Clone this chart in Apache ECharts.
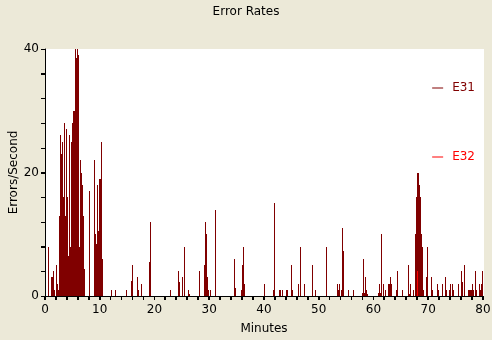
<!DOCTYPE html>
<html>
<head>
<meta charset="utf-8">
<script src="https://cdn.jsdelivr.net/npm/echarts@6/dist/echarts.min.js"></script>
<style>
  html, body { margin: 0; padding: 0; background: #ece9d8; }
  #chart { width: 492px; height: 340px; }
</style>
</head>
<body>
<div id="chart"></div>
<script>
// 数据：[分钟, 错误数/秒]
var e31 = [
  [0.8, 8], [1.3, 3], [1.5, 3], [1.7, 4], [1.9, 1], [2.25, 5], [2.45, 2], [2.6, 1],
  [2.75, 13], [2.95, 26], [3.1, 23], [3.3, 25], [3.5, 16], [3.65, 28], [3.8, 13],
  [3.95, 24], [4.05, 27], [4.2, 16], [4.35, 6.5], [4.5, 26], [4.65, 23], [4.75, 8],
  [4.85, 25], [5.0, 3], [5.15, 28], [5.3, 30], [5.5, 30], [5.6, 5], [5.75, 40],
  [5.85, 38.5], [6.05, 40], [6.2, 39], [6.3, 28], [6.4, 8], [6.55, 22], [6.7, 20],
  [6.85, 18], [7.05, 13], [7.25, 4.4], [8.3, 17], [9.2, 22], [9.4, 10], [9.55, 8.5],
  [9.75, 18], [9.95, 10.5], [10.1, 19], [10.3, 19], [10.5, 25], [10.65, 6],
  [12.15, 1], [13.05, 1], [15.05, 1], [15.95, 2.5], [16.15, 5], [16.9, 3], [17.25, 1],
  [17.8, 2], [19.1, 5.5], [19.3, 12], [22.95, 1], [24.4, 4], [24.6, 2.3], [25.15, 3],
  [25.5, 8], [26.25, 1], [26.4, 0.3], [28.25, 4], [29.15, 5], [29.35, 12], [29.55, 10],
  [29.7, 3], [29.95, 1], [30.25, 1], [31.2, 14], [34.65, 6], [34.85, 1.3], [36.0, 1],
  [36.2, 5], [36.3, 8], [36.5, 2], [40.15, 2], [41.8, 1], [42.0, 15], [42.9, 1],
  [43.1, 1], [43.4, 1], [44.25, 1], [44.45, 1], [45.1, 5], [45.25, 1], [46.35, 2],
  [46.75, 8], [47.45, 2], [48.95, 5], [49.5, 1], [51.5, 8], [53.5, 2], [53.7, 1],
  [53.9, 2], [54.25, 1], [54.45, 11], [54.6, 7.3], [55.5, 1], [56.45, 1], [58.1, 0.5],
  [58.25, 6], [58.45, 0.5], [58.65, 3], [58.8, 1], [59.0, 0.3], [61.0, 0.5], [61.2, 2],
  [61.4, 0.5], [61.55, 10], [61.95, 2], [62.3, 1], [62.8, 2], [62.95, 2], [63.15, 3],
  [63.35, 2], [64.3, 1], [64.5, 4], [65.4, 1], [66.5, 5], [66.7, 0.3], [66.9, 2],
  [67.4, 1], [67.8, 10], [67.95, 16], [68.1, 20], [68.3, 20], [68.45, 18], [68.6, 16],
  [68.75, 11], [68.9, 10], [69.1, 8], [69.25, 1], [69.8, 3], [70.0, 8], [70.7, 3],
  [70.9, 1], [71.8, 2], [72.0, 1], [72.75, 2], [73.3, 3], [73.45, 1], [74.0, 1],
  [74.2, 2], [74.55, 2], [74.75, 1], [75.65, 2], [76.2, 4], [76.4, 2.3], [76.75, 5],
  [77.5, 1], [77.7, 1], [77.85, 1], [78.05, 1], [78.2, 2], [78.4, 1], [78.75, 4],
  [78.95, 1], [79.5, 2], [79.7, 1], [79.85, 2], [79.95, 4]
];
var e32 = [
  [68.2, 4]
];
var seriesNames = ['E31', 'E32'];
var seriesColors = ['#800000', '#ff0000'];
// 刻度：小刻度间隔 / 标签间隔
var xTickStep = 2, xLabelStep = 10;
var yTickStep = 4, yLabelStep = 20;

var font = 'DejaVu Sans';
var txt = { fontFamily: font, fontSize: 12, color: '#000' };
var tickStyle = { show: true, inside: false, length: 4, lineStyle: { color: '#000', width: 1, opacity: 1 } };
var chart = echarts.init(document.getElementById('chart'));

// 小刻度位置（数据值），由坐标轴换算成像素
var xTicks = [], yTicks = [];
for (var v = 0; v <= 80; v += xTickStep) xTicks.push([v, 0]);
for (var w = 0; w <= 40; w += yTickStep) yTicks.push([0, w]);

// 细竖条：用坐标轴换算位置，x 取整让 1px 的条不发虚
function spike(params, api) {
  var top = api.coord([api.value(0), api.value(1)]);
  var base = api.coord([api.value(0), 0]);
  var x = Math.round(top[0]) - 1;
  return {
    type: 'rect',
    shape: { x: x, y: Math.round(top[1]), width: 1, height: Math.round(base[1]) - Math.round(top[1]) },
    style: { fill: api.visual('color') }
  };
}

// x 轴刻度：向下 4px
function xTick(params, api) {
  var p = api.coord([api.value(0), 0]);
  var x = Math.round(p[0]) - 0.5, y = Math.round(p[1]);
  return { type: 'line', shape: { x1: x, y1: y, x2: x, y2: y + 4 }, style: { stroke: '#000', lineWidth: 1 } };
}

// y 轴刻度：向左 4px
function yTick(params, api) {
  var p = api.coord([0, api.value(1)]);
  var x = Math.round(p[0]), y = Math.round(p[1]) + 0.5;
  return { type: 'line', shape: { x1: x - 4, y1: y, x2: x, y2: y }, style: { stroke: '#000', lineWidth: 1 } };
}

var option = {
  backgroundColor: '#ece9d8',
  animation: false,
  // 标题
  title: {
    text: 'Error Rates',
    left: 'center',
    top: 1,
    textStyle: { fontFamily: font, fontSize: 12, fontWeight: 'normal', color: '#000' }
  },
  // 图例
  legend: {
    orient: 'vertical',
    right: 12,
    top: 77,
    itemGap: 57,
    itemWidth: 11,
    itemHeight: 1,
    icon: 'rect',
    data: seriesNames.map(function (n, i) {
      return { name: n, itemStyle: { color: seriesColors[i] }, textStyle: { color: seriesColors[i] } };
    }),
    textStyle: { fontFamily: font, fontSize: 12, padding: [0, 0, 0, 4] }
  },
  grid: {
    left: 45,
    right: 9,
    top: 49,
    bottom: 44,
    containLabel: false,
    outerBoundsMode: 'none'
  },
  // 两条 x 轴叠在一起：一条画轴线，一条只画标签
  xAxis: [{
    type: 'value',
    min: 0,
    max: 80,
    interval: xTickStep,
    name: 'Minutes',
    nameLocation: 'middle',
    nameGap: 27,
    nameTextStyle: txt,
    axisLine: { show: true, lineStyle: { color: '#000', width: 1 } },
    axisTick: tickStyle,
    axisLabel: { show: false },
    splitLine: { show: false }
  }, {
    type: 'value',
    position: 'bottom',
    min: 0,
    max: 80,
    interval: xLabelStep,
    axisLine: { show: false },
    axisTick: { show: false },
    axisLabel: { show: true, fontFamily: font, fontSize: 12, color: '#000', margin: 8 },
    splitLine: { show: false }
  }],
  yAxis: [{
    type: 'value',
    min: 0,
    max: 40,
    interval: yTickStep,
    name: 'Errors/Second',
    nameLocation: 'middle',
    nameGap: 25,
    nameTextStyle: txt,
    axisLine: { show: true, lineStyle: { color: '#000', width: 1 } },
    axisTick: tickStyle,
    axisLabel: { show: false },
    splitLine: { show: false }
  }, {
    type: 'value',
    position: 'left',
    min: 0,
    max: 40,
    interval: yLabelStep,
    axisLine: { show: false },
    axisTick: { show: false },
    axisLabel: { show: true, fontFamily: font, fontSize: 12, color: '#000', margin: 6 },
    splitLine: { show: false }
  }],
  series: [{
    name: seriesNames[0],
    type: 'custom',
    renderItem: spike,
    itemStyle: { color: seriesColors[0] },
    encode: { x: 0, y: 1 },
    data: e31
  }, {
    name: seriesNames[1],
    type: 'custom',
    renderItem: spike,
    itemStyle: { color: seriesColors[1] },
    encode: { x: 0, y: 1 },
    data: e32
  }, {
    name: 'xTicks',
    type: 'custom',
    silent: true,
    clip: false,
    renderItem: xTick,
    encode: { x: 0, y: 1 },
    data: xTicks
  }, {
    name: 'yTicks',
    type: 'custom',
    silent: true,
    clip: false,
    renderItem: yTick,
    encode: { x: 0, y: 1 },
    data: yTicks
  }]
};

chart.setOption(option);

// 白色绘图区：按坐标轴换算出范围，放在最底层
var tl = chart.convertToPixel({ gridIndex: 0 }, [0, 40]);
var br = chart.convertToPixel({ gridIndex: 0 }, [80, 0]);
chart.setOption({
  graphic: [{
    type: 'rect',
    z: -10,
    silent: true,
    shape: { x: tl[0], y: tl[1], width: br[0] - tl[0] + 1, height: br[1] - tl[1] },
    style: { fill: '#fff' }
  }]
});
</script>
</body>
</html>
